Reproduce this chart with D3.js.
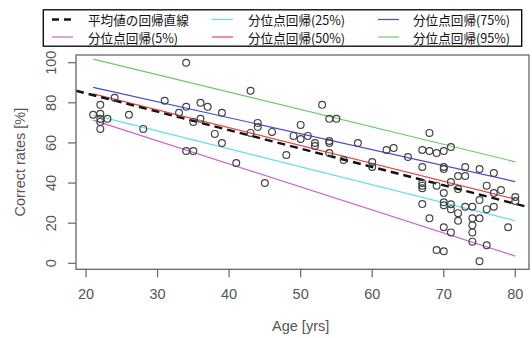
<!DOCTYPE html>
<html>
<head>
<meta charset="utf-8">
<script src="https://cdn.jsdelivr.net/npm/d3@7"></script>
<style>
  body { margin: 0; background: #fff; }
  svg { display: block; }
  .tick-label { font-family: "Liberation Sans", Arial, sans-serif; font-size: 14.5px; fill: #555; }
  .legend-text { font-family: "Noto Sans CJK JP", sans-serif; font-size: 12.6px; fill: #111; }
</style>
</head>
<body>
<svg id="vis_svg" width="532" height="338"></svg>
<script>
// scatter points (age, correct rate)
let ages = [21, 22, 22, 22, 22, 22, 23, 24, 26, 28, 31, 33, 34, 34, 34, 35, 35, 36, 36, 37,
    38, 39, 39, 41, 43, 43, 44, 44, 45, 46, 48, 49, 50, 50, 51, 52, 52, 53, 54, 55,
    54, 54, 54, 56, 58, 60, 60, 62, 63, 65, 67, 68, 68, 69, 70, 71, 67, 70, 70, 73,
    75, 77, 72, 73, 71, 67, 67, 67, 69, 72, 76, 78, 77, 80, 80, 70, 75, 67, 70, 70,
    71, 71, 73, 74, 76, 77, 72, 72, 68, 74, 75, 74, 70, 71, 74, 79, 74, 76, 69, 70, 75];
let rates = [74, 79, 74.5, 72, 70.5, 67, 72, 82.5, 74, 67, 81, 75, 100, 78, 56, 70.5, 56, 80, 72, 78,
    64.5, 75, 60, 50, 86, 65, 70, 68, 40, 65.5, 54, 63.5, 69, 62, 63.5, 60, 58.5, 79, 72, 72,
    61, 60, 55, 51.5, 60, 50.5, 48, 56.5, 57.5, 53, 56.5, 65, 56, 55, 56, 58, 48, 48, 47, 48,
    47, 45, 43.5, 43.5, 40.5, 40, 38.7, 37.4, 38.7, 37, 38.7, 36.5, 35, 33, 31, 35, 31.5, 29.5, 30.4, 29,
    29.4, 27, 28.2, 28.2, 27, 28.2, 25, 21.2, 22.4, 22.4, 22.4, 19, 18, 15.4, 15.4, 18, 10.8, 9, 6.6, 6, 1];

// mean regression line: rate = intercept + slope * age
let meanIntercept = 103.1;
let meanSlope = -0.918;

// quantile regression lines, value at the first and last age
let lineAges = [21, 80];
let quantileNames = ['5%', '25%', '50%', '75%', '95%'];
let quantileStart = [71.4, 74, 84.5, 87.7, 101.8];
let quantileEnd = [3.6, 21.2, 32, 40.7, 50.6];
let quantileColors = ['#d060d0', '#5ee0e0', '#e04848', '#4848d0', '#66cc66'];

let xTicks = [20, 30, 40, 50, 60, 70, 80];
let yTicks = [0, 20, 40, 60, 80, 100];

let svg = d3.select('svg#vis_svg');

// plot box
let box = {left: 76, right: 529, top: 55, bottom: 269.3};

let x = d3.scaleLinear().domain([20, 80]).range([86, 515.3]);
let y = d3.scaleLinear().domain([0, 100]).range([263.3, 62.7]);

svg.append('defs').append('clipPath').attr('id', 'clip')
    .append('rect')
    .attr('x', box.left).attr('y', box.top)
    .attr('width', box.right - box.left).attr('height', box.bottom - box.top);

let plot = svg.append('g').attr('clip-path', 'url(#clip)');

// quantile lines
quantileNames.forEach(function(name, i) {
    plot.append('line')
        .attr('x1', x(lineAges[0])).attr('y1', y(quantileStart[i]))
        .attr('x2', x(lineAges[1])).attr('y2', y(quantileEnd[i]))
        .attr('stroke', quantileColors[i])
        .attr('stroke-width', 1.2);
});

// mean regression line spans the whole box
let xMin = x.invert(box.left);
let xMax = x.invert(box.right);
plot.append('line')
    .attr('x1', x(xMin)).attr('y1', y(meanIntercept + meanSlope * xMin))
    .attr('x2', x(xMax)).attr('y2', y(meanIntercept + meanSlope * xMax))
    .attr('stroke', '#111')
    .attr('stroke-width', 2.4)
    .attr('stroke-dasharray', '8,5');

// points
plot.selectAll('circle')
    .data(ages)
    .enter()
    .append('circle')
    .attr('cx', d => x(d))
    .attr('cy', (d, i) => y(rates[i]))
    .attr('r', 3.4)
    .attr('fill', 'none')
    .attr('stroke', '#444')
    .attr('stroke-width', 1.2);

// box
svg.append('rect')
    .attr('x', box.left).attr('y', box.top)
    .attr('width', box.right - box.left).attr('height', box.bottom - box.top)
    .attr('fill', 'none')
    .attr('stroke', '#666')
    .attr('stroke-width', 1.3);

// x axis ticks
let xAxis = svg.append('g');
xAxis.selectAll('line')
    .data(xTicks).enter().append('line')
    .attr('x1', d => x(d)).attr('x2', d => x(d))
    .attr('y1', box.bottom).attr('y2', box.bottom + 8)
    .attr('stroke', '#666').attr('stroke-width', 1.2);
xAxis.selectAll('text')
    .data(xTicks).enter().append('text')
    .attr('class', 'tick-label')
    .attr('x', d => x(d)).attr('y', 299)
    .attr('text-anchor', 'middle')
    .text(d => d);

// y axis ticks (rotated labels)
let yAxis = svg.append('g');
yAxis.selectAll('line')
    .data(yTicks).enter().append('line')
    .attr('x1', box.left - 8).attr('x2', box.left)
    .attr('y1', d => y(d)).attr('y2', d => y(d))
    .attr('stroke', '#666').attr('stroke-width', 1.2);
yAxis.selectAll('text')
    .data(yTicks).enter().append('text')
    .attr('class', 'tick-label')
    .attr('transform', d => 'translate(56,' + y(d) + ') rotate(-90)')
    .attr('text-anchor', 'middle')
    .text(d => d);

// axis titles
svg.append('text')
    .attr('class', 'tick-label')
    .attr('x', (x(20) + x(80)) / 2).attr('y', 331)
    .attr('text-anchor', 'middle')
    .text('Age [yrs]');
svg.append('text')
    .attr('class', 'tick-label')
    .attr('transform', 'translate(25,' + ((box.top + box.bottom) / 2) + ') rotate(-90)')
    .attr('text-anchor', 'middle')
    .text('Correct rates [%]');

// legend (filled column by column, 3 columns x 2 rows)
let legendLabels = ['平均値の回帰直線'].concat(quantileNames.map(q => '分位点回帰(' + q + ')'));
let legendColors = ['#111'].concat(quantileColors);
let colLineX = [52, 212, 378];
let colTextX = [88, 248, 413];
let rowY = [19.5, 37];

let legend = svg.append('g');
legend.append('rect')
    .attr('x', 43.3).attr('y', 9.8)
    .attr('width', 478.4).attr('height', 36.4)
    .attr('fill', '#fff')
    .attr('stroke', '#111')
    .attr('stroke-width', 1.4);

legendLabels.forEach(function(label, i) {
    let col = Math.floor(i / 2);
    let row = i % 2;
    let ln = legend.append('line')
        .attr('x1', colLineX[col]).attr('x2', colLineX[col] + 21)
        .attr('y1', rowY[row]).attr('y2', rowY[row])
        .attr('stroke', legendColors[i]);
    if (i === 0) {
        ln.attr('stroke-width', 2.4).attr('stroke-dasharray', '7,5');
    } else {
        ln.attr('stroke-width', 1.2);
    }
    legend.append('text')
        .attr('class', 'legend-text')
        .attr('x', colTextX[col]).attr('y', rowY[row])
        .attr('dominant-baseline', 'central')
        .text(label);
});
</script>
</body>
</html>
